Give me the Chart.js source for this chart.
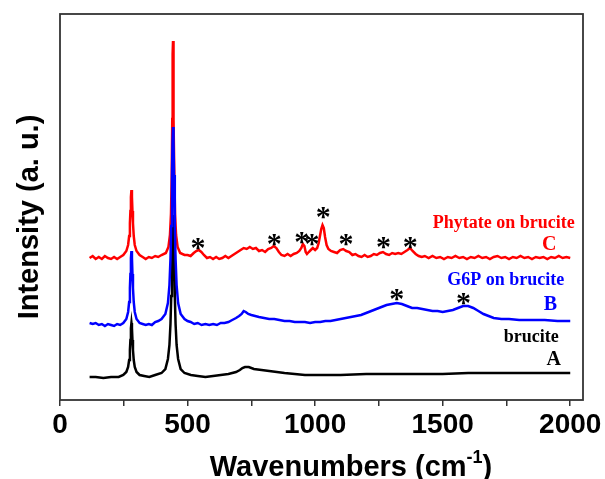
<!DOCTYPE html>
<html>
<head>
<meta charset="utf-8">
<script src="https://cdn.jsdelivr.net/npm/chart.js@4.4.0/dist/chart.umd.min.js"></script>
<style>
  html, body { margin: 0; padding: 0; background: #fff; }
</style>
</head>
<body>
<canvas id="ramanChart" width="605" height="479"></canvas>
<script>
// Raman spectra as [wavenumber, intensity] pairs, offset for display (a.u.)
const spectrumC = [[116,142],[128,144],[140,141],[152,143],[164,141],[176,144],[188,142],[200,141],[212,143],[224,141],[236,143],[248,145],[260,149],[267,155],[271,164],[274,177],[276,189],[278,203],[280,210],[282,203],[284,189],[286,177],[289,164],[293,155],[300,149],[312,145],[324,143],[336,141],[348,143],[360,142],[373,144],[385,143],[398,145],[415,147],[425,153],[431,165],[435,186],[438,227],[440,281],[441,316],[442,346],[443,359],[444,346],[445,316],[446,281],[448,227],[451,186],[455,165],[461,153],[471,147],[488,145],[500,145],[512,144],[524,147],[534,149],[544,150],[554,148],[564,145],[576,142],[588,143],[600,141],[612,143],[624,141],[636,142],[648,144],[660,142],[672,144],[684,146],[696,148],[708,150],[720,152],[732,151],[744,153],[756,151],[768,152],[780,149],[792,150],[804,148],[816,151],[828,152],[838,154],[848,152],[858,148],[868,145],[880,144],[892,146],[904,144],[916,146],[928,147],[938,149],[946,152],[952,156],[958,154],[963,148],[968,146],[975,148],[983,150],[991,152],[1000,150],[1008,152],[1014,157],[1019,164],[1024,171],[1029,175],[1034,172],[1039,163],[1045,155],[1052,151],[1062,149],[1074,148],[1086,147],[1098,150],[1110,151],[1122,149],[1134,148],[1146,145],[1158,146],[1170,144],[1182,143],[1194,145],[1206,143],[1218,144],[1230,146],[1242,145],[1254,147],[1266,148],[1278,146],[1290,145],[1302,147],[1314,146],[1326,147],[1338,146],[1350,148],[1362,150],[1372,152],[1382,149],[1394,146],[1406,144],[1418,143],[1430,144],[1445,142],[1460,144],[1475,142],[1490,143],[1505,141],[1520,143],[1535,142],[1550,144],[1565,142],[1580,143],[1595,141],[1610,143],[1625,142],[1640,144],[1655,142],[1670,143],[1685,141],[1700,143],[1715,144],[1730,142],[1745,143],[1760,141],[1775,143],[1790,142],[1805,144],[1820,142],[1835,143],[1850,141],[1865,143],[1880,142],[1895,143],[1910,141],[1925,143],[1940,142],[1955,144],[1970,142],[1985,143],[2000,142]];

const spectrumB = [[116,77],[128,76],[140,77],[152,75],[164,76],[176,74],[188,76],[200,75],[212,74],[224,76],[236,75],[248,77],[260,81],[267,88],[271,98],[274,112],[276,126],[278,142],[280,149],[282,142],[284,126],[286,112],[289,98],[293,88],[300,81],[312,77],[324,76],[336,75],[348,76],[360,75],[373,78],[385,79],[398,81],[413,86],[423,97],[429,115],[433,141],[436,174],[439,225],[441,258],[443,273],[445,258],[447,225],[450,174],[453,141],[457,115],[463,97],[473,86],[488,81],[500,79],[512,78],[526,76],[540,77],[555,75],[570,76],[585,75],[600,76],[615,75],[630,77],[645,77],[660,78],[675,80],[690,82],[702,84],[712,86],[720,89],[728,88],[738,86],[750,85],[765,84],[780,83],[800,82],[820,81],[840,81],[860,80],[880,79],[900,79],[920,78],[940,78],[960,78],[980,77],[1000,78],[1020,78],[1040,79],[1060,79],[1080,80],[1100,81],[1120,82],[1140,83],[1160,84],[1180,85],[1200,87],[1220,89],[1240,91],[1260,93],[1280,95],[1300,96],[1320,97],[1340,96],[1360,94],[1380,92],[1400,92],[1420,91],[1440,90],[1460,89],[1480,89],[1500,88],[1520,89],[1540,90],[1560,92],[1580,94],[1600,94],[1620,92],[1640,89],[1660,86],[1680,84],[1700,82],[1730,81],[1760,81],[1800,80],[1850,80],[1900,80],[1950,79],[2000,79]];

const spectrumA = [[116,23],[140,23],[170,22],[200,23],[230,23],[248,25],[260,28],[267,33],[271,40],[274,50],[276,60],[278,72],[280,77],[282,72],[284,60],[286,50],[289,40],[293,33],[300,28],[312,25],[330,24],[350,23],[373,25],[398,27],[413,31],[423,41],[429,55],[433,76],[436,104],[439,145],[441,173],[443,185],[445,173],[447,145],[450,104],[453,76],[457,55],[463,41],[473,31],[488,27],[513,25],[540,24],[570,23],[600,24],[630,25],[660,26],[690,28],[705,30],[715,32],[725,33],[740,33],[760,31],[790,30],[820,29],[850,28],[880,27],[920,26],[960,25],[1000,25],[1050,25],[1100,25],[1200,26],[1300,26],[1400,26],[1500,26],[1600,27],[1700,27],[1800,27],[1900,27],[2000,27]];

// asterisk marks (wavenumber, height)
const starWn  = [541, 840, 948, 988, 1032, 1121, 1268, 1373, 1320, 1582];
const starInt = [156, 160, 162, 160, 187, 160, 157, 157, 105, 101];

// curve labels (centre wavenumber, height)
const labelText  = ['Phytate on brucite', 'C', 'G6P on brucite', 'B', 'brucite', 'A'];
const labelWn    = [1739, 1918, 1747, 1922, 1847, 1935];
const labelInt   = [177, 155, 120, 95, 63, 40];
const labelColor = ['#ff0000', '#ff0000', '#0000ff', '#0000ff', '#000000', '#000000'];
const labelSize  = [18, 20, 18, 20, 18, 20];

const xTicks = [0, 250, 500, 750, 1000, 1250, 1500, 1750, 2000];

const toPoints = pairs => pairs.map(p => ({ x: p[0], y: p[1] }));

const overlay = {
  id: 'overlay',
  afterDatasetsDraw(chart) {
    const { ctx, chartArea: a, scales: { x, y } } = chart;
    ctx.save();

    // asterisks
    ctx.font = 'bold 30px "Liberation Serif"';
    ctx.fillStyle = '#000';
    ctx.textAlign = 'center';
    ctx.textBaseline = 'alphabetic';
    const m = ctx.measureText('*');
    const off = (m.actualBoundingBoxAscent - m.actualBoundingBoxDescent) / 2;
    starWn.forEach((w, i) => {
      ctx.fillText('*', x.getPixelForValue(w), y.getPixelForValue(starInt[i]) + off);
    });

    // labels
    ctx.textBaseline = 'middle';
    labelText.forEach((t, i) => {
      ctx.font = 'bold ' + labelSize[i] + 'px "Liberation Serif"';
      ctx.fillStyle = labelColor[i];
      ctx.fillText(t, x.getPixelForValue(labelWn[i]), y.getPixelForValue(labelInt[i]));
    });

    // frame
    ctx.strokeStyle = '#333';
    ctx.lineWidth = 1.8;
    ctx.strokeRect(a.left, a.top, a.right - a.left, a.bottom - a.top);

    // x title with superscript
    ctx.fillStyle = '#000';
    ctx.textAlign = 'left';
    ctx.textBaseline = 'alphabetic';
    const big = 'bold 29px "Liberation Sans"', small = 'bold 18px "Liberation Sans"';
    ctx.font = big;
    const w1 = ctx.measureText('Wavenumbers (cm').width;
    const w3 = ctx.measureText(')').width;
    ctx.font = small;
    const w2 = ctx.measureText('-1').width;
    const sx = 351 - (w1 + w2 + w3) / 2;
    const by = 476;
    ctx.font = big;
    ctx.fillText('Wavenumbers (cm', sx, by);
    ctx.font = small;
    ctx.fillText('-1', sx + w1, by - 13);
    ctx.font = big;
    ctx.fillText(')', sx + w1 + w2, by);

    // y title
    ctx.translate(38, 217);
    ctx.rotate(-Math.PI / 2);
    ctx.textAlign = 'center';
    ctx.fillText('Intensity (a. u.)', 0, 0);

    ctx.restore();
  }
};

// first dataset is drawn on top: blue over red, black underneath
new Chart(document.getElementById('ramanChart'), {
  type: 'line',
  data: {
    datasets: [
      { label: 'G6P on brucite', data: toPoints(spectrumB), borderColor: '#0000ff' },
      { label: 'Phytate on brucite', data: toPoints(spectrumC), borderColor: '#ff0000' },
      { label: 'brucite', data: toPoints(spectrumA), borderColor: '#000000' }
    ]
  },
  options: {
    responsive: false,
    animation: false,
    events: [],
    parsing: false,
    elements: {
      line: { borderWidth: 2.5, tension: 0, fill: false },
      point: { radius: 0 }
    },
    layout: { padding: { left: 60, right: 22, top: 14, bottom: 0 } },
    plugins: { legend: { display: false }, tooltip: { enabled: false } },
    scales: {
      x: {
        type: 'linear', min: 0, max: 2050,
        afterBuildTicks(s) { s.ticks = xTicks.map(v => ({ value: v })); },
        afterFit(s) { s.height = 79; },
        border: { display: false },
        grid: { drawOnChartArea: false, drawTicks: true, tickLength: 6, color: '#333', lineWidth: 1.5 },
        ticks: {
          autoSkip: false, maxRotation: 0, padding: 2, color: '#000',
          font: { family: 'Liberation Sans', size: 28, weight: 'bold' },
          callback: v => (v % 500 === 0 ? String(v) : '')
        }
      },
      y: { display: false, min: 0, max: 386 }
    }
  },
  plugins: [overlay]
});
</script>
</body>
</html>
